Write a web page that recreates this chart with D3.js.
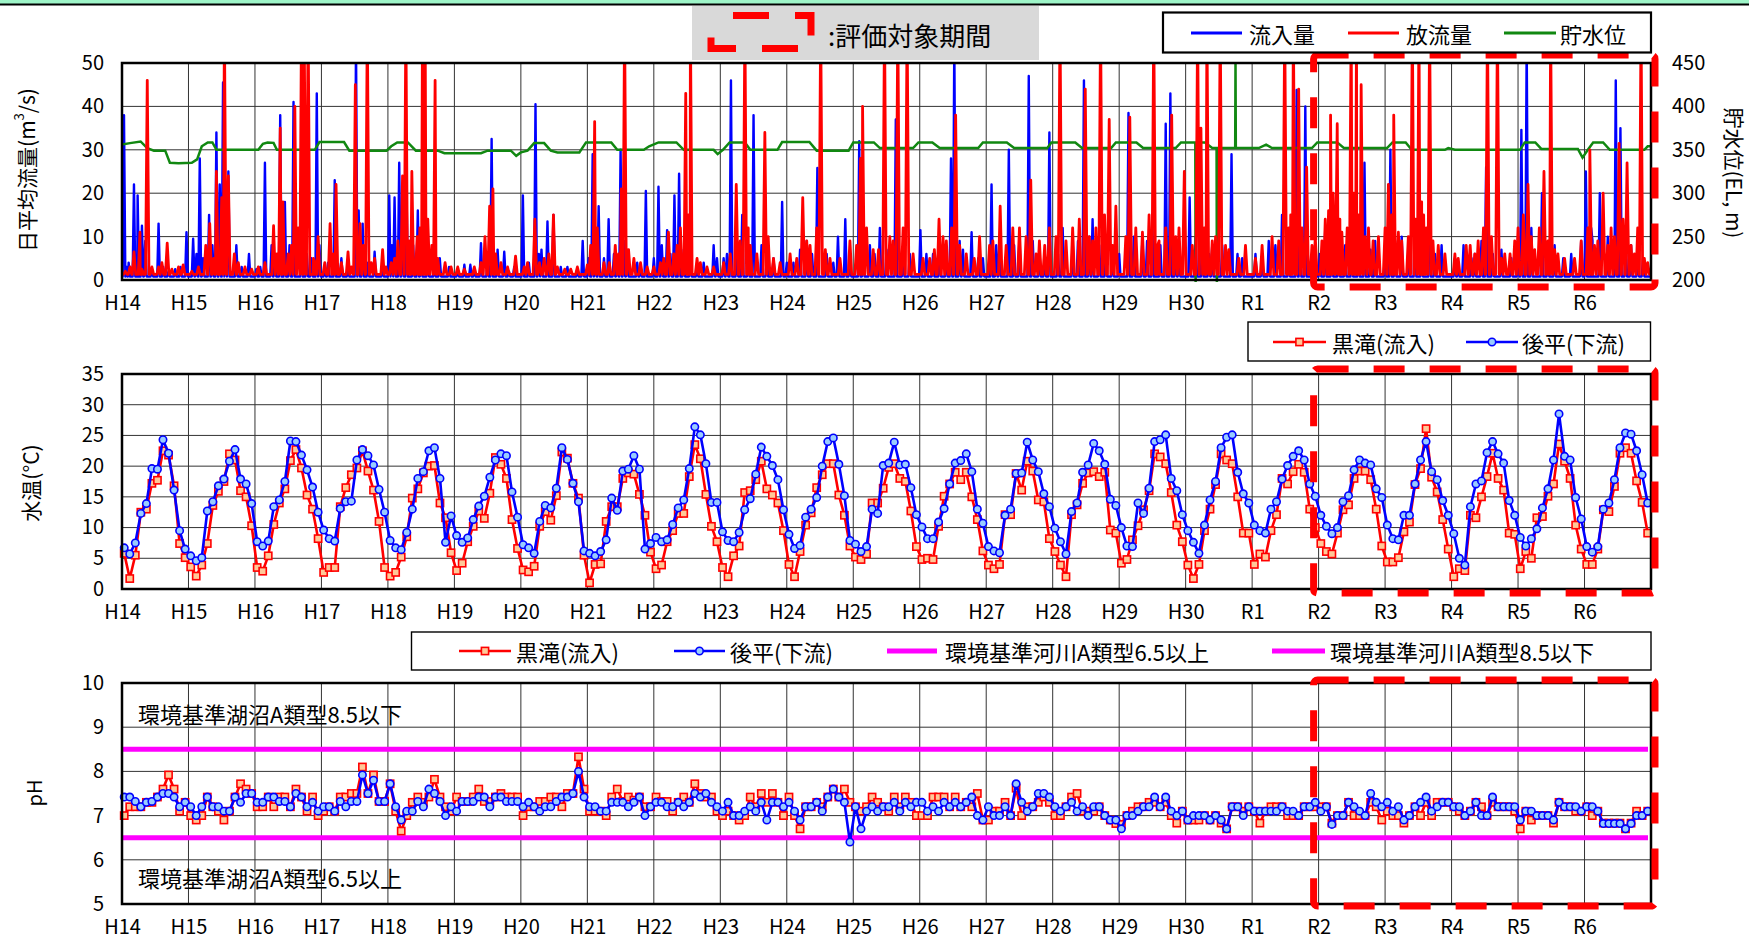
<!DOCTYPE html>
<html lang="ja">
<head>
<meta charset="utf-8">
<script src="https://cdn.jsdelivr.net/npm/d3@7"></script>
<style>
  body { margin: 0; background: #fff; }
</style>
</head>
<body>
<svg id="drawing_region"></svg>
<script>
// ---- data ----
const yearLabels = ["H14","H15","H16","H17","H18","H19","H20","H21","H22","H23","H24","H25",
  "H26","H27","H28","H29","H30","R1","R2","R3","R4","R5","R6"];

// daily flow, kept as the visible peaks [years since H14, m3/s]
const inflowPeaks = [
  [0.03,38],[0.10,4],[0.18,22],[0.235,19.5],[0.30,12.5],[0.35,9],[0.55,13],[0.62,3],[0.80,2.5],[0.97,11],
  [1.07,9.5],[1.12,6],[1.17,28],[1.31,15],[1.42,34],[1.47,22],[1.52,45.5],[1.60,25],[1.72,8],[1.91,6],
  [2.08,3],[2.15,27],[2.25,8],[2.38,38],[2.45,18],[2.58,41],[2.70,30],[2.85,5],[2.93,43],[2.97,8],
  [3.10,4],[3.20,23],[3.30,5],[3.52,55],[3.56,16],[3.62,13],[3.80,6.5],[3.92,3],
  [4.02,19.5],[4.10,19],[4.17,27],[4.28,20],[4.38,8],[4.45,16],[4.60,11],[4.78,5],[4.92,3],
  [5.15,3.5],[5.24,3.5],[5.40,8.5],[5.56,32.5],[5.65,7],[5.75,6.5],[5.90,3],
  [6.03,19.5],[6.22,40.5],[6.31,7],[6.40,13.5],[6.49,15],[6.70,3],[6.93,9],
  [7.08,29],[7.17,17],[7.32,14],[7.45,5],[7.50,30],[7.60,6],[7.75,4],[7.88,20.5],
  [8.07,21.5],[8.20,11.5],[8.31,19.5],[8.38,24.5],[8.55,6],[8.75,4],[8.90,8],
  [9.05,5],[9.16,46],[9.33,15],[9.50,38],[9.62,8],[9.80,5],[9.93,18],
  [10.10,4],[10.30,9],[10.46,25.8],[10.60,6],[10.77,10],[10.88,14],
  [11.09,32],[11.25,8],[11.40,12],[11.64,37],[11.85,6],
  [12.01,11.5],[12.20,6],[12.47,28],[12.52,55],[12.65,7],[12.78,11],[12.95,5],
  [13.08,22],[13.20,9],[13.34,30],[13.50,10],[13.64,47],[13.80,7],[13.95,34],
  [14.15,12],[14.30,9],[14.47,46],[14.60,14],[14.80,8],
  [15.00,6],[15.14,38.5],[15.35,10],[15.50,12],[15.70,36],[15.77,43],[15.90,9],
  [16.06,19],[16.25,12],[16.40,8],[16.69,29],[16.85,5],
  [17.05,6],[17.25,9],[17.45,15],[17.67,43.8],[17.80,40],[17.95,8],
  [18.10,12],[18.30,10],[18.50,18],[18.69,27],[18.85,9],
  [19.08,30],[19.25,10],[19.45,14],[19.67,35],[19.85,8],
  [20.05,5],[20.18,8],[20.35,6],[20.52,26],[20.75,7],[20.90,5],
  [21.05,34.6],[21.13,55],[21.36,20],[21.55,8],[21.80,6],
  [22.02,25],[22.12,9],[22.23,20],[22.47,46],[22.54,35],[22.70,8],[22.88,5]
];
// smaller bumps of the inflow that thicken the low band
const inflowMinor = [
  [0.07,3],[0.25,6],[0.45,2.5],[0.7,2],[0.88,3],[1.22,5],[1.36,8],[1.56,12],[1.8,3],[2.02,2.5],
  [2.3,5],[2.52,8],[2.78,6],[3.05,2.5],[3.4,3],[3.7,4],[4.06,8],[4.22,10],[4.5,6],[4.7,4],
  [5.05,2],[5.3,2.5],[5.5,4],[5.82,2],[6.12,4],[6.27,6],[6.6,3],[6.85,2.5],[7.02,5],[7.12,8],
  [7.25,5],[7.4,6],[7.55,9],[7.8,3],[8.0,5],[8.12,8],[8.25,6],[8.45,7],[8.65,3],[8.95,5],
  [9.1,6],[9.25,6],[9.42,8],[9.7,5],[10.0,4],[10.2,7],[10.38,6],[10.7,4],[10.95,5],[11.15,8],
  [11.32,6],[11.5,7],[11.75,5],[12.1,6],[12.3,8],[12.4,7],[12.6,9],[12.88,5],[13.15,8],[13.42,8],
  [13.7,9],[13.88,6],[14.08,6],[14.38,9],[14.55,10],[14.7,8],[14.9,6],[15.22,10],[15.42,9],[15.62,8],
  [15.85,6],[16.15,10],[16.35,6],[16.55,8],[16.78,6],[17.15,5],[17.35,8],[17.55,10],[17.72,12],[18.02,6],
  [18.2,10],[18.4,8],[18.6,12],[18.78,7],[19.0,8],[19.15,9],[19.35,7],[19.55,10],[19.75,6],[20.1,4],
  [20.3,5],[20.45,9],[20.62,6],[21.0,10],[21.2,12],[21.45,8],[21.68,5],[21.95,9],[22.1,12],[22.35,10],
  [22.62,9],[22.8,6]
];
const outflowPeaks = [
  [0.05,2],[0.18,6.5],[0.27,11],[0.38,46],[0.45,3],[0.55,3],[0.68,8.5],[0.85,3],
  [1.05,2],[1.26,8],[1.32,13],[1.42,25],[1.50,19],[1.54,60],[1.60,24],[1.69,6],[1.85,3],
  [2.05,3],[2.28,12.5],[2.38,35],[2.42,18],[2.50,6],[2.60,40],[2.65,12],[2.70,60],[2.74,60],[2.80,60],[2.88,5],[2.95,10],
  [3.05,4],[3.13,13],[3.22,22],[3.40,6.5],[3.51,45],[3.58,13],[3.69,60],[3.80,5],[3.92,7],
  [4.05,4],[4.15,9],[4.22,24],[4.27,60],[4.36,25],[4.44,10],[4.52,60],[4.56,60],[4.60,14],[4.66,8],[4.71,46],[4.86,4],
  [5.05,3],[5.30,3],[5.46,10],[5.53,17],[5.58,21],[5.70,4],[5.92,5.5],
  [6.10,4],[6.21,14],[6.35,5],[6.49,15],[6.66,2.5],[6.85,3],
  [7.00,3.5],[7.11,36.5],[7.25,4],[7.42,8],[7.51,21],[7.56,60],[7.70,5],[7.90,3],
  [8.10,4],[8.22,11],[8.30,6],[8.40,12],[8.48,43],[8.55,60],[8.65,5],[8.80,3],
  [9.05,4],[9.24,22],[9.37,60],[9.45,8],[9.67,34],[9.80,5],
  [10.05,6],[10.24,19],[10.35,8],[10.51,60],[10.65,5],[10.95,9],
  [11.11,28],[11.14,40],[11.30,7],[11.47,60],[11.55,10],[11.67,60],[11.81,60],[11.90,6],
  [12.15,5],[12.29,14],[12.40,9],[12.54,38],[12.70,6],[12.90,10],
  [13.05,8],[13.21,17],[13.40,12],[13.67,23],[13.80,9],[13.95,12],
  [14.11,60],[14.30,12],[14.49,44],[14.60,9],[14.72,60],[14.85,37],[14.95,17],
  [15.16,37.5],[15.35,11],[15.52,60],[15.60,9],[15.79,38],[15.90,12],[15.98,25],
  [16.18,60],[16.23,35],[16.32,60],[16.40,9],[16.52,60],[16.65,7],[16.90,8],
  [17.05,5],[17.30,10],[17.49,60],[17.55,12],[17.62,60],[17.70,44],[17.82,26],[17.90,8],
  [18.10,14],[18.18,38],[18.28,36],[18.35,11],[18.49,60],[18.57,60],[18.64,45],[18.75,12],[18.90,10],
  [19.05,22],[19.13,38],[19.25,9],[19.41,60],[19.51,60],[19.58,15],[19.67,60],[19.80,8],
  [20.05,6],[20.28,8],[20.40,9],[20.54,60],[20.69,60],[20.80,6],[20.95,9],
  [21.00,12],[21.15,22],[21.25,7],[21.39,25],[21.49,60],[21.60,6],[21.85,5],
  [22.08,30],[22.15,8],[22.28,20],[22.40,12],[22.52,31.5],[22.64,27],[22.75,6],[22.85,60],[22.95,4]
];
// smaller bumps of the outflow
const outflowMinor = [
  [0.12,3],[0.3,2.5],[0.6,4],[0.75,2.5],[0.92,3.5],[1.15,3],[1.38,5],[1.75,4],[1.95,2.5],[2.15,4],
  [2.33,6],[2.55,8],[2.9,4],[3.18,6],[3.3,4],[3.45,3],[3.63,8],[3.75,4],[3.97,3],[4.1,5],
  [4.32,9],[4.48,12],[4.75,5],[4.95,3],[5.15,2.5],[5.4,4],[5.62,6],[5.8,3],[6.05,3],[6.28,4],
  [6.42,6],[6.55,3],[6.75,2.5],[7.05,8],[7.15,12],[7.33,4],[7.47,6],[7.62,7],[7.8,4],[8.0,3],
  [8.15,5],[8.35,8],[8.52,15],[8.7,4],[8.9,3],[9.15,6],[9.3,9],[9.42,12],[9.55,6],[9.72,10],
  [9.9,4],[10.15,5],[10.3,9],[10.45,12],[10.58,7],[10.8,5],[11.05,8],[11.2,12],[11.38,7],[11.6,9],
  [11.75,12],[12.05,5],[12.22,7],[12.35,10],[12.48,12],[12.6,8],[12.82,5],[13.1,9],[13.3,8],[13.5,12],
  [13.6,10],[13.75,6],[13.88,8],[14.05,10],[14.2,9],[14.4,14],[14.55,10],[14.65,12],[14.78,15],[14.9,8],
  [15.1,10],[15.25,12],[15.45,15],[15.58,8],[15.7,12],[15.85,10],[16.1,8],[16.28,12],[16.45,10],[16.6,8],
  [16.8,5],[17.15,8],[17.4,9],[17.58,15],[17.75,12],[17.95,10],[18.05,9],[18.15,16],[18.22,20],[18.32,14],
  [18.43,12],[18.53,20],[18.6,15],[18.7,10],[18.82,9],[19.0,12],[19.1,15],[19.2,11],[19.35,10],[19.46,14],
  [19.55,18],[19.62,12],[19.72,9],[19.9,6],[20.1,5],[20.22,8],[20.35,6],[20.48,12],[20.6,10],[20.75,5],
  [20.88,6],[21.08,15],[21.2,10],[21.32,12],[21.45,9],[21.55,7],[21.7,5],[21.95,9],[22.05,12],[22.2,9],
  [22.35,8],[22.45,10],[22.58,14],[22.7,8],[22.8,12],[22.9,5]
];
const inflowBase = 0.8;
const outflowBase = 1.3;

// reservoir level, EL m  [years since H14, level]
const waterLevel = [
  [0,356],[0.12,357.7],[0.28,359.6],[0.38,352],[0.48,349],[0.65,349],[0.72,335],[0.85,334.6],[1.05,335],
  [1.13,339],[1.2,354],[1.29,358.5],[1.36,358.5],[1.42,350],[2.05,350],[2.12,357],[2.19,358.5],[2.28,358],
  [2.33,350],[2.9,350],[2.97,359],[3.34,359],[3.42,349],[3.98,349],[4.05,354],[4.14,358.5],[4.3,358.5],
  [4.42,349],[4.75,349],[4.85,346],[5.4,346],[5.5,349],[5.85,349],[5.93,343],[6.0,347],[6.1,349],
  [6.2,357.7],[6.35,357.7],[6.45,349],[6.55,347],[6.88,347],[6.98,358.5],[7.36,358.5],[7.45,350],
  [7.85,350],[7.93,354],[8.07,358.5],[8.34,358.5],[8.45,350],[8.9,350],[8.96,345],[9.04,350],
  [9.14,358.5],[9.37,358.5],[9.45,350],[9.86,350],[9.93,359],[10.34,359],[10.45,349],[10.93,349],
  [11.0,358.5],[11.31,358.5],[11.4,352],[11.9,352],[11.98,358.5],[12.19,358.5],[12.3,352],[12.88,352],
  [12.95,358.5],[13.31,358.5],[13.42,352],[13.92,352],[13.98,358.5],[14.34,358.5],[14.44,352],
  [14.88,352],[14.95,358.5],[15.26,358.5],[15.36,352],[15.85,352],[15.93,358.5],[16.145,358.5],
  [16.15,195],[16.155,358.5],[16.29,358.5],[16.4,352],[16.465,352],[16.47,195],[16.475,352],
  [16.745,352],[16.75,452],[16.755,352],[17.1,352],[17.21,356],[17.3,352],[17.9,352],[17.98,358.5],
  [18.28,358.5],[18.38,352],[19.03,352],[19.11,358.5],[19.31,358.5],[19.4,350],[19.9,350],[19.95,352],
  [20.05,350],[21.03,350],[21.1,358.5],[21.26,358.5],[21.35,351],[21.9,351],[21.97,341],[22.05,350],
  [22.13,358.5],[22.28,358.5],[22.38,350],[22.9,350],[22.95,354],[23,354]
];

// monthly water temperature (one row per year, Jan..Dec)
const kurotakiTemp = [
  [5.8,1.7,5.5,12.5,13.0,17.2,17.7,22.5,21.8,16.8,7.4,5.1],
  [3.6,2.1,3.9,7.4,13.6,15.9,17.5,22.0,21.0,16.0,15.0,10.3],
  [3.5,2.9,5.4,10.5,14.0,16.3,20.9,22.7,19.7,15.3,13.0,8.2],
  [2.7,3.5,3.5,13.4,16.5,18.6,19.7,22.5,19.2,16.1,11.0,3.5],
  [2.1,2.7,5.2,8.5,14.8,16.3,18.9,20.0,20.1,14.0,11.6,5.9],
  [3.0,4.2,7.7,10.2,12.7,11.5,15.6,21.4,20.3,18.0,11.3,6.6],
  [3.1,2.8,3.7,10.2,12.6,11.2,15.2,22.3,21.3,17.2,14.8,5.5],
  [1.0,4.0,4.1,11.0,13.4,13.4,18.0,18.9,18.7,15.4,12.0,6.0],
  [3.3,3.9,7.7,9.5,12.3,12.3,18.3,23.5,21.2,15.4,10.2,7.7],
  [3.5,2.0,5.4,7.0,15.7,16.0,17.8,20.8,16.3,15.3,14.0,9.5],
  [4.0,2.0,6.1,10.4,12.4,16.5,18.6,20.4,20.4,15.3,12.0,7.0],
  [5.2,4.8,5.7,14.0,14.0,16.4,19.8,20.4,18.0,17.5,12.7,6.9],
  [4.8,5.0,4.8,10.2,15.1,17.1,19.0,17.8,19.0,15.0,11.3,6.2],
  [3.9,3.3,4.0,12.1,12.1,18.8,16.1,20.8,19.2,14.5,14.2,8.2],
  [6.1,3.9,2.0,12.1,13.7,17.2,18.9,19.1,18.3,19.0,9.6,9.1],
  [4.2,4.8,8.0,10.3,12.9,16.0,22.0,21.5,20.4,15.7,10.4,7.7],
  [3.9,1.7,4.0,9.5,13.0,17.0,22.0,21.0,20.4,15.0,9.1,9.1],
  [4.0,5.7,5.2,9.5,12.1,18.0,17.1,19.1,20.3,19.0,13.0,10.0],
  [7.4,6.1,5.7,9.1,12.9,13.7,18.0,19.2,19.2,17.8,13.0,7.0],
  [4.4,4.4,5.1,9.3,10.9,17.0,19.6,26.1,18.2,15.8,11.3,6.5],
  [2.0,3.3,3.0,12.0,11.6,15.0,18.3,22.1,18.0,16.1,9.1,8.9],
  [3.3,6.1,5.0,11.6,11.8,15.1,17.1,23.6,20.8,18.0,10.4,6.5],
  [4.0,4.0,6.5,12.9,12.6,16.7,22.1,23.0,22.1,17.6,14.1,9.1]
];
const gohiraTemp = [
  [6.7,5.7,7.5,12.3,13.9,19.6,19.5,24.3,22.1,16.1,9.5,6.5],
  [5.4,4.6,5.1,12.7,14.2,16.8,17.9,20.8,22.7,17.9,17.1,13.9],
  [7.7,7.0,7.8,13.4,14.5,17.5,24.1,24.0,21.8,19.4,16.6,12.5],
  [9.6,8.2,7.8,13.1,14.2,14.3,21.0,22.7,21.7,20.2,16.2,12.5],
  [7.9,6.7,6.4,9.2,13.0,18.0,19.1,22.5,23.0,18.0,7.6,11.9],
  [8.7,7.6,8.3,11.3,13.5,15.1,18.2,21.0,22.0,21.7,15.8,11.7],
  [7.2,6.7,5.8,11.0,13.6,13.2,16.4,23.0,21.1,17.2,14.2,6.2],
  [5.8,5.4,6.1,8.0,14.8,12.8,19.2,19.5,21.7,19.5,6.5,7.4],
  [8.4,7.7,8.0,10.5,13.2,14.5,19.6,26.4,25.1,20.4,14.1,14.1],
  [9.3,7.9,7.7,9.2,12.9,14.7,18.7,23.1,21.6,20.1,17.8,12.9],
  [8.9,6.6,7.1,11.7,13.0,14.9,20.0,24.0,24.6,20.3,15.2,7.9],
  [7.3,6.1,6.9,13.0,12.3,20.1,20.5,23.9,20.2,20.3,16.5,12.1],
  [10.1,8.2,8.2,10.9,13.1,17.1,20.5,20.9,22.0,19.1,13.0,10.7],
  [6.9,6.2,5.9,12.0,13.0,18.8,18.9,23.9,21.0,19.1,15.5,13.4],
  [9.9,7.7,5.7,12.6,14.0,19.0,20.2,23.7,22.5,20.3,14.6,13.6],
  [10.0,7.0,6.9,14.0,12.3,16.4,24.0,24.3,25.1,18.0,16.0,12.1],
  [9.5,7.6,5.8,10.4,14.5,17.5,23.0,24.7,25.1,19.0,15.5,14.0],
  [10.4,9.5,9.1,13.0,14.2,17.9,20.1,21.6,22.5,21.0,17.1,15.1],
  [12.0,10.2,9.0,10.0,14.2,15.2,19.4,21.0,20.5,20.2,16.3,14.9],
  [10.4,8.2,8.0,12.0,12.0,17.1,21.0,24.0,19.1,17.8,14.4,12.0],
  [9.0,5.0,3.9,13.4,17.1,17.6,22.2,24.0,22.0,20.5,14.4,12.0],
  [8.4,7.0,8.2,9.8,13.2,16.3,21.0,28.5,21.6,21.0,14.9,11.4],
  [6.9,6.0,6.9,13.0,14.0,17.8,23.0,25.4,25.2,22.5,18.6,14.0]
];

// monthly pH (one row per year)
const kurotakiPH = [
  [7.0,7.2,7.2,7.2,7.3,7.3,7.42,7.6,7.92,7.6,7.1,7.3],
  [7.0,6.9,7.0,7.42,7.2,7.1,6.9,7.1,7.42,7.72,7.6,7.5],
  [7.2,7.2,7.42,7.2,7.42,7.42,7.2,7.6,7.42,7.1,7.42,7.0],
  [7.1,7.2,7.1,7.42,7.42,7.5,7.5,8.1,7.5,7.92,7.32,7.32],
  [7.72,7.1,6.65,7.0,7.3,7.42,7.3,7.42,7.82,7.42,7.2,7.1],
  [7.42,7.32,7.32,7.42,7.6,7.32,7.32,7.42,7.5,7.42,7.42,7.42],
  [7.0,7.2,7.2,7.32,7.32,7.42,7.42,7.2,7.5,7.5,8.33,7.6],
  [7.1,7.1,7.1,7.0,7.42,7.6,7.32,7.42,7.35,7.42,7.2,7.2],
  [7.42,7.32,7.32,7.1,7.3,7.42,7.3,7.72,7.5,7.42,7.42,7.1],
  [7.0,7.1,7.0,6.9,7.0,7.42,7.2,7.5,7.3,7.5,7.3,7.0],
  [7.42,7.0,6.7,7.2,7.2,7.3,7.2,7.42,7.6,7.42,7.6,7.3],
  [7.2,7.1,7.2,7.42,7.3,7.2,7.1,7.42,7.2,7.42,7.3,7.0],
  [7.0,7.0,7.42,7.42,7.42,7.2,7.42,7.2,7.3,7.2,7.5,6.9],
  [6.9,7.1,7.1,7.3,7.0,7.62,7.0,7.2,7.2,7.3,7.42,7.3],
  [7.0,7.0,7.2,7.42,7.5,7.1,7.1,7.1,7.2,7.0,6.9,6.82],
  [6.8,7.0,7.1,7.2,7.2,7.3,7.3,7.2,7.3,7.0,6.83,7.1],
  [6.9,6.9,6.9,7.0,6.9,7.0,6.83,6.7,7.2,7.2,7.1,7.2],
  [7.1,6.83,7.1,7.2,7.2,7.2,7.0,7.0,7.0,7.2,7.2,7.2],
  [7.2,7.2,6.83,7.0,7.0,7.3,7.0,7.0,7.0,7.3,7.2,6.9],
  [7.1,7.0,7.0,6.83,7.0,7.2,7.0,7.3,7.0,7.3,7.3,7.3],
  [7.2,7.1,7.0,7.1,7.3,7.2,7.0,7.3,7.2,7.2,7.2,7.1],
  [6.7,7.1,6.9,7.0,7.0,7.0,6.83,7.3,7.2,7.2,7.1,7.1],
  [7.2,7.0,7.1,6.83,6.83,6.83,6.83,6.7,6.83,7.1,7.0,7.1]
];
const gohiraPH = [
  [7.42,7.42,7.32,7.2,7.3,7.32,7.42,7.5,7.5,7.42,7.2,7.3],
  [7.2,7.0,7.2,7.42,7.2,7.2,7.1,7.1,7.42,7.3,7.5,7.5],
  [7.3,7.3,7.42,7.42,7.32,7.32,7.2,7.5,7.42,7.2,7.3,7.1],
  [7.2,7.2,7.1,7.32,7.2,7.32,7.32,7.92,7.5,7.8,7.32,7.32],
  [7.72,7.2,6.9,7.1,7.1,7.32,7.2,7.6,7.5,7.32,7.0,7.2],
  [7.1,7.32,7.32,7.32,7.42,7.42,7.2,7.42,7.42,7.32,7.32,7.32],
  [7.2,7.3,7.2,7.1,7.2,7.2,7.32,7.42,7.42,7.5,8.0,7.42],
  [7.2,7.2,7.1,7.1,7.3,7.3,7.3,7.2,7.3,7.42,7.0,7.2],
  [7.3,7.3,7.2,7.2,7.3,7.2,7.3,7.5,7.42,7.5,7.3,7.2],
  [7.1,7.3,7.0,7.0,7.1,7.2,7.1,7.3,6.9,7.3,7.3,7.2],
  [7.3,7.1,6.9,7.2,7.2,7.3,7.1,7.42,7.6,7.42,7.3,6.4],
  [7.2,6.7,7.1,7.2,7.1,7.2,7.2,7.3,7.1,7.3,7.2,7.3],
  [7.3,7.1,7.2,7.1,7.3,7.2,7.3,7.2,7.3,7.42,7.0,6.9],
  [7.2,7.0,7.0,7.2,7.0,7.72,7.3,7.1,7.2,7.5,7.5,7.42],
  [7.2,7.1,7.2,7.3,7.1,7.2,7.0,7.2,7.2,7.0,6.9,6.9],
  [6.7,7.0,7.0,7.1,7.2,7.2,7.42,7.2,7.42,7.1,7.0,7.1],
  [6.9,7.0,7.0,7.0,6.9,7.0,6.9,6.7,7.2,7.2,7.0,7.2],
  [7.1,7.1,7.1,7.1,7.1,7.2,7.1,7.1,7.0,7.2,7.2,7.3],
  [7.1,7.2,6.8,7.0,7.0,7.3,7.2,7.1,7.0,7.5,7.3,7.2],
  [7.3,7.1,7.2,6.9,7.0,7.2,7.3,7.42,7.1,7.2,7.3,7.3],
  [7.2,7.2,7.0,7.1,7.3,7.0,7.0,7.42,7.2,7.2,7.2,7.2],
  [6.9,7.1,7.1,7.0,7.0,7.0,6.9,7.3,7.2,7.2,7.2,7.1],
  [7.2,7.2,7.1,6.82,6.82,6.82,6.82,6.7,6.82,7.0,7.0,7.1]
];

const flowTicks = [0, 10, 20, 30, 40, 50];
const levelTicks = [200, 250, 300, 350, 400, 450];
const tempTicks = [0, 5, 10, 15, 20, 25, 30, 35];
const phTicks = [5, 6, 7, 8, 9, 10];
const phLimits = [8.5, 6.5];
const evalStart = 18;   // R2

// ---- layout ----
const FONT = '"Noto Sans CJK JP", "Noto Sans", sans-serif';
const X0 = 122, X1 = 1651;
const panels = {
  flow: { top: 63, bottom: 280 },
  temp: { top: 374, bottom: 589 },
  ph:   { top: 683, bottom: 904 }
};
const C = { blue: '#0000ff', red: '#ff0000', green: '#118811', magenta: '#ff00ff',
            sqFill: '#ffc898', ciFill: '#99ccff' };

const svg = d3.select('#drawing_region').attr('width', 1749).attr('height', 943)
  .style('font-family', FONT);

const x = d3.scaleLinear().domain([0, 23]).range([X0, X1]);
const yFlow = d3.scaleLinear().domain([0, 50]).range([panels.flow.bottom, panels.flow.top]);
const yLevel = d3.scaleLinear().domain([200, 450]).range([panels.flow.bottom, panels.flow.top]);
const yTemp = d3.scaleLinear().domain([0, 35]).range([panels.temp.bottom, panels.temp.top]);
const yPH = d3.scaleLinear().domain([5, 10]).range([panels.ph.bottom, panels.ph.top]);

// header strip
svg.append('rect').attr('x', 0).attr('y', 0).attr('width', 1749).attr('height', 4).attr('fill', '#9ef5c8');
svg.append('line').attr('x1', 0).attr('x2', 1749).attr('y1', 4.5).attr('y2', 4.5)
  .attr('stroke', '#000').attr('stroke-width', 2);

function styleAxis(g, size) {
  g.select('.domain').remove();
  g.attr('font-family', FONT).attr('font-size', size);
  g.selectAll('text').attr('fill', '#000');
}

function drawFrame(p, yScale, ticks) {
  const g = svg.append('g');
  g.selectAll('line.v').data(d3.range(1, 23)).join('line')
    .attr('x1', d => x(d)).attr('x2', d => x(d))
    .attr('y1', p.top).attr('y2', p.bottom)
    .attr('stroke', '#333').attr('stroke-width', 1);
  g.selectAll('line.h').data(ticks.slice(1, -1)).join('line')
    .attr('x1', X0).attr('x2', X1)
    .attr('y1', d => yScale(d)).attr('y2', d => yScale(d))
    .attr('stroke', '#333').attr('stroke-width', 1);

  g.append('g').attr('transform', `translate(${X0},0)`)
    .call(d3.axisLeft(yScale).tickValues(ticks).tickFormat(d3.format('d')).tickSize(0).tickPadding(18))
    .call(a => styleAxis(a, 20));
  g.append('g').attr('transform', `translate(0,${p.bottom})`)
    .call(d3.axisBottom(x).tickValues(d3.range(23)).tickFormat(i => yearLabels[i]).tickSize(0).tickPadding(16))
    .call(a => styleAxis(a, 20));
}

function drawBorder(p) {
  svg.append('rect').attr('x', X0).attr('y', p.top)
    .attr('width', X1 - X0).attr('height', p.bottom - p.top)
    .attr('fill', 'none').attr('stroke', '#000').attr('stroke-width', 2.5);
}

function vLabel(text, cx, cy, angle, size) {
  return svg.append('text')
    .attr('transform', `translate(${cx},${cy}) rotate(${angle})`)
    .attr('text-anchor', 'middle').attr('dominant-baseline', 'central')
    .attr('font-size', size).text(text);
}

// ================= panel 1 : flow & level =================
const pf = panels.flow;
drawFrame(pf, yFlow, flowTicks);

svg.append('g').attr('transform', `translate(${X1},0)`)
  .call(d3.axisRight(yLevel).tickValues(levelTicks).tickSize(0).tickPadding(21))
  .call(a => styleAxis(a, 20));

svg.append('clipPath').attr('id', 'clipFlow').append('rect')
  .attr('x', X0).attr('y', pf.top).attr('width', X1 - X0).attr('height', pf.bottom - pf.top + 2);

function spikeSeries(peaks, base, hw) {
  const pts = [[0, base], [23, base]];
  peaks.forEach(([t, v]) => pts.push([t - hw, base], [t, v], [t + hw, base]));
  return pts.sort((a, b) => a[0] - b[0]);
}

const flowG = svg.append('g').attr('clip-path', 'url(#clipFlow)');
const flowLine = d3.line().x(d => x(d[0])).y(d => yFlow(d[1]));
flowG.append('path').datum(spikeSeries(inflowPeaks.concat(inflowMinor), inflowBase, 0.02))
  .attr('d', flowLine).attr('fill', 'none').attr('stroke', C.blue).attr('stroke-width', 2.4)
  .attr('stroke-linejoin', 'round');
flowG.append('path').datum(waterLevel)
  .attr('d', d3.line().x(d => x(d[0])).y(d => yLevel(d[1])))
  .attr('fill', 'none').attr('stroke', C.green).attr('stroke-width', 2.5);
flowG.append('path').datum(spikeSeries(outflowPeaks.concat(outflowMinor), outflowBase, 0.026))
  .attr('d', flowLine).attr('fill', 'none').attr('stroke', C.red).attr('stroke-width', 2.8)
  .attr('stroke-linejoin', 'round');
drawBorder(pf);

const flowTitle = svg.append('text')
  .attr('transform', 'translate(26,170) rotate(-90)')
  .attr('text-anchor', 'middle').attr('dominant-baseline', 'central').attr('font-size', 21);
flowTitle.append('tspan').text('日平均流量(m');
flowTitle.append('tspan').attr('font-size', 13).attr('dy', -8).text('3');
flowTitle.append('tspan').attr('dy', 8).text('/s)');
vLabel('貯水位(EL, m)', 1735, 173, 90, 21);

// ================= panel 2 : water temperature =================
const pt = panels.temp;
drawFrame(pt, yTemp, tempTicks);

function monthPoints(rows) {
  return rows.flatMap((yr, yi) => yr.map((v, m) => [yi + (m + 0.4) / 12, v]));
}

function drawStation(yScale, rows, color, fill, shape) {
  const pts = monthPoints(rows);
  const g = svg.append('g');
  g.append('path').datum(pts)
    .attr('d', d3.line().x(d => x(d[0])).y(d => yScale(d[1])))
    .attr('fill', 'none').attr('stroke', color).attr('stroke-width', 2.6).attr('stroke-linejoin', 'round');
  if (shape === 'square') {
    g.selectAll('rect').data(pts).join('rect')
      .attr('x', d => x(d[0]) - 3.6).attr('y', d => yScale(d[1]) - 3.6)
      .attr('width', 7.2).attr('height', 7.2)
      .attr('fill', fill).attr('stroke', color).attr('stroke-width', 1.6);
  } else {
    g.selectAll('circle').data(pts).join('circle')
      .attr('cx', d => x(d[0])).attr('cy', d => yScale(d[1])).attr('r', 3.7)
      .attr('fill', fill).attr('stroke', color).attr('stroke-width', 1.6);
  }
}

drawStation(yTemp, kurotakiTemp, C.red, C.sqFill, 'square');
drawStation(yTemp, gohiraTemp, C.blue, C.ciFill, 'circle');
drawBorder(pt);
vLabel('水温(°C)', 30, 483, -90, 21);

// ================= panel 3 : pH =================
const pp = panels.ph;
drawFrame(pp, yPH, phTicks);
svg.selectAll('line.limit').data(phLimits).join('line')
  .attr('x1', X0).attr('x2', X1 - 3)
  .attr('y1', d => yPH(d)).attr('y2', d => yPH(d))
  .attr('stroke', C.magenta).attr('stroke-width', 5);
drawStation(yPH, kurotakiPH, C.red, C.sqFill, 'square');
drawStation(yPH, gohiraPH, C.blue, C.ciFill, 'circle');
drawBorder(pp);
vLabel('pH', 33, 793, -90, 20);

svg.append('text').attr('x', 138).attr('y', 713).attr('dominant-baseline', 'central')
  .attr('font-size', 22).text('環境基準湖沼A類型8.5以下');
svg.append('text').attr('x', 138).attr('y', 877).attr('dominant-baseline', 'central')
  .attr('font-size', 22).text('環境基準湖沼A類型6.5以上');

// ================= evaluation period boxes =================
[[pf, 8, 7], [pt, 5, 4], [pp, 3, 2]].forEach(([p, up, down]) => {
  svg.append('rect')
    .attr('x', x(evalStart) - 5).attr('y', p.top - up)
    .attr('width', X1 + 4 - (x(evalStart) - 5)).attr('height', p.bottom - p.top + up + down)
    .attr('rx', 4).attr('fill', 'none').attr('stroke', C.red).attr('stroke-width', 7)
    .attr('stroke-dasharray', '31 25');
});

// ================= legends =================
// period key
svg.append('rect').attr('x', 692).attr('y', 6).attr('width', 347).attr('height', 54).attr('fill', '#d9d9d9');
svg.append('rect').attr('x', 711).attr('y', 15.5).attr('width', 100).attr('height', 33)
  .attr('fill', 'none').attr('stroke', C.red).attr('stroke-width', 7)
  .attr('stroke-dasharray', '36 26').attr('stroke-dashoffset', -22);
svg.append('text').attr('x', 828).attr('y', 34).attr('dominant-baseline', 'central')
  .attr('font-size', 26).text(':評価対象期間');

function legendBox(x0, y0, x1, y1, w) {
  svg.append('rect').attr('x', x0).attr('y', y0).attr('width', x1 - x0).attr('height', y1 - y0)
    .attr('fill', '#fff').attr('stroke', '#000').attr('stroke-width', w);
}
function legendItem(lx0, lx1, cy, color, lw, label, tx, marker) {
  svg.append('line').attr('x1', lx0).attr('x2', lx1).attr('y1', cy).attr('y2', cy)
    .attr('stroke', color).attr('stroke-width', lw);
  const mx = (lx0 + lx1) / 2;
  if (marker === 'square') {
    svg.append('rect').attr('x', mx - 3.6).attr('y', cy - 3.6).attr('width', 7.2).attr('height', 7.2)
      .attr('fill', C.sqFill).attr('stroke', color).attr('stroke-width', 1.6);
  } else if (marker === 'circle') {
    svg.append('circle').attr('cx', mx).attr('cy', cy).attr('r', 3.7)
      .attr('fill', C.ciFill).attr('stroke', color).attr('stroke-width', 1.6);
  }
  svg.append('text').attr('x', tx).attr('y', cy).attr('dominant-baseline', 'central')
    .attr('font-size', 22).text(label);
}

legendBox(1163, 12.5, 1651, 52.5, 2.2);
legendItem(1191, 1242, 33, C.blue, 3, '流入量', 1249);
legendItem(1348, 1399, 33, C.red, 3, '放流量', 1406);
legendItem(1504, 1556, 33, C.green, 3, '貯水位', 1560);

legendBox(1248, 322, 1650.5, 361, 1.4);
legendItem(1273, 1326, 342, C.red, 2.6, '黒滝(流入)', 1332, 'square');
legendItem(1466, 1518, 342, C.blue, 2.6, '後平(下流)', 1522, 'circle');

legendBox(411.5, 632, 1651, 670, 1.4);
legendItem(459, 511, 651, C.red, 2.6, '黒滝(流入)', 516, 'square');
legendItem(674, 725, 651, C.blue, 2.6, '後平(下流)', 730, 'circle');
legendItem(887, 937, 651, C.magenta, 5, '環境基準河川A類型6.5以上', 945);
legendItem(1272, 1325, 651, C.magenta, 5, '環境基準河川A類型8.5以下', 1330);
</script>
</body>
</html>
